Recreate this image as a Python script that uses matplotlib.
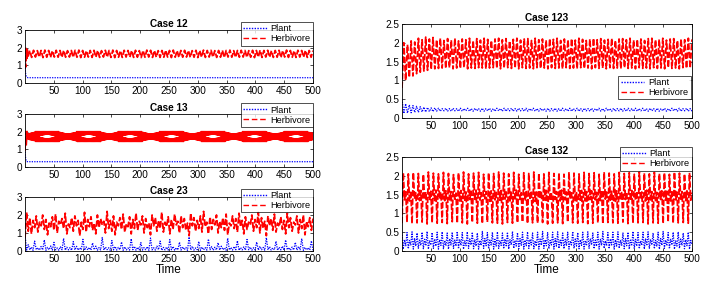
import numpy as np
import matplotlib
matplotlib.use("Agg")
import matplotlib.pyplot as plt

plt.rcParams['font.family'] = ['Liberation Sans', 'DejaVu Sans']
plt.rcParams['lines.scale_dashes'] = False
plt.rcParams['path.simplify'] = False

# ---------------- data ----------------
x_ticks = [50, 100, 150, 200, 250, 300, 350, 400, 450, 500]
labels = ["Plant", "Herbivore"]

# Case 12
h12_trans_t = [0, 1, 2, 3, 4]
h12_trans = [2.00, 0.90, 1.95, 1.30, 1.88]
h12_peaks = [1.84,1.85,1.83,1.84,1.86,1.84,1.83,1.85,1.84,1.85,
             1.83,1.84,1.85,1.86,1.84,1.83,1.84,1.85,1.84,1.83,
             1.85,1.84,1.86,1.84,1.83,1.85,1.84,1.84,1.85,1.83,
             1.84,1.86,1.85,1.84,1.83,1.84,1.85,1.84,1.86,1.83,
             1.84,1.85,1.84,1.83,1.85,1.84,1.86,1.84,1.85,1.83,
             1.84,1.85,1.84,1.86,1.83,1.84,1.85,1.84,1.83,1.85,
             1.84,1.86,1.84,1.85,1.83,1.84,1.85,1.84,1.86,1.84,
             1.83,1.85,1.84,1.85,1.84,1.83]
h12_troughs = [1.46,1.45,1.47,1.46,1.44,1.46,1.45,1.47,1.46,1.45,
               1.46,1.47,1.45,1.46,1.44,1.46,1.47,1.45,1.46,1.45,
               1.47,1.46,1.45,1.44,1.46,1.45,1.47,1.46,1.45,1.46,
               1.44,1.46,1.47,1.45,1.46,1.45,1.46,1.47,1.44,1.46,
               1.45,1.46,1.47,1.45,1.46,1.44,1.46,1.45,1.47,1.46,
               1.45,1.46,1.44,1.47,1.46,1.45,1.46,1.47,1.45,1.46,
               1.44,1.46,1.45,1.47,1.46,1.45,1.46,1.44,1.47,1.45,
               1.46,1.45,1.47,1.46,1.45,1.46]
p12_t = [0, 1, 2, 3, 5, 500]
p12 = [1.00, 0.55, 0.40, 0.33, 0.30, 0.30]

# Case 13 (constant-amplitude fast oscillation, t = 5 ... 500)
h13_trans_t = [0, 1, 2, 3.5, 5]
h13_trans = [0.90, 2.00, 1.20, 2.05, 1.45]
h13 = [
1.45,2.00,1.45,2.00,1.45,2.00,1.45,2.00,1.45,2.00,1.45,2.00,1.45,2.00,1.45,2.00,
1.45,2.00,1.45,2.00,1.45,2.00,1.45,2.00,1.45,2.00,1.45,2.00,1.45,2.00,1.45,2.00,
1.45,2.00,1.45,2.00,1.45,2.00,1.45,2.00,1.45,2.00,1.45,2.00,1.45,2.00,1.45,2.00,
1.45,2.00,1.45,2.00,1.45,2.00,1.45,2.00,1.45,2.00,1.45,2.00,1.45,2.00,1.45,2.00,
1.45,2.00,1.45,2.00,1.45,2.00,1.45,2.00,1.45,2.00,1.45,2.00,1.45,2.00,1.45,2.00,
1.45,2.00,1.45,2.00,1.45,2.00,1.45,2.00,1.45,2.00,1.45,2.00,1.45,2.00,1.45,2.00,
1.45,2.00,1.45,2.00,1.45,2.00,1.45,2.00,1.45,2.00,1.45,2.00,1.45,2.00,1.45,2.00,
1.45,2.00,1.45,2.00,1.45,2.00,1.45,2.00,1.45,2.00,1.45,2.00,1.45,2.00,1.45,2.00,
1.45,2.00,1.45,2.00,1.45,2.00,1.45,2.00,1.45,2.00,1.45,2.00,1.45,2.00,1.45,2.00,
1.45,2.00,1.45,2.00,1.45,2.00,1.45,2.00,1.45,2.00,1.45,2.00,1.45,2.00,1.45,2.00,
1.45,2.00,1.45,2.00,1.45,2.00,1.45,2.00,1.45,2.00,1.45,2.00,1.45,2.00,1.45,2.00,
1.45,2.00,1.45,2.00,1.45,2.00,1.45,2.00,1.45,2.00,1.45,2.00,1.45,2.00,1.45,2.00,
1.45,2.00,1.45,2.00,1.45,2.00,1.45,2.00,1.45,2.00,1.45,2.00,1.45,2.00,1.45,2.00,
1.45,2.00,1.45,2.00,1.45,2.00,1.45,2.00,1.45,2.00,1.45,2.00,1.45,2.00,1.45,2.00,
1.45,2.00,1.45,2.00,1.45,2.00,1.45,2.00,1.45,2.00,1.45,2.00,1.45,2.00,1.45,2.00,
1.45,2.00,1.45,2.00,1.45,2.00,1.45,2.00,1.45,2.00,1.45,2.00,1.45,2.00,1.45,2.00,
1.45,2.00,1.45,2.00,1.45,2.00,1.45,2.00,1.45,2.00,1.45,2.00,1.45,2.00,1.45,2.00,
1.45,2.00,1.45,2.00,1.45,2.00,1.45,2.00,1.45,2.00,1.45,2.00,1.45,2.00,1.45,2.00,
1.45,2.00,1.45,2.00,1.45,2.00,1.45,2.00,1.45,2.00,1.45,2.00,1.45,2.00,1.45,2.00,
1.45,2.00,1.45,2.00,1.45,2.00,1.45,2.00,1.45,2.00,1.45,2.00,1.45,2.00,1.45,2.00,
1.45,2.00,1.45,2.00,1.45,2.00,1.45,2.00,1.45,2.00,1.45,2.00,1.45,2.00,1.45,2.00,
1.45,2.00,1.45,2.00,1.45,2.00,1.45,2.00,1.45,2.00,1.45,2.00,1.45,2.00,1.45,2.00,
1.45,2.00,1.45,2.00,1.45,2.00,1.45,2.00,1.45,2.00,1.45,2.00,1.45,2.00,1.45,2.00,
1.45,2.00,1.45,2.00,1.45,2.00,1.45,2.00,1.45,2.00,1.45,2.00,1.45,2.00,1.45,2.00,
1.45,2.00,1.45,2.00,1.45,2.00,1.45,2.00,1.45,2.00,1.45,2.00,1.45,2.00,1.45,2.00,
1.45,2.00,1.45,2.00,1.45,2.00,1.45,2.00,1.45,2.00,1.45,2.00,1.45,2.00,1.45,2.00,
1.45,2.00,1.45,2.00,1.45,2.00,1.45,2.00,1.45,2.00,1.45,2.00,1.45,2.00,1.45,2.00,
1.45,2.00,1.45,2.00,1.45,2.00,1.45,2.00,1.45,2.00,1.45,2.00,1.45,2.00,1.45,2.00,
1.45,2.00,1.45,2.00,1.45,2.00,1.45,2.00,1.45,2.00,1.45,2.00,1.45,2.00,1.45,2.00,
1.45,2.00,1.45,2.00,1.45,2.00,1.45,2.00,1.45,2.00,1.45,2.00,1.45,2.00,1.45,2.00,
1.45,2.00,1.45,2.00,1.45,2.00,1.45,2.00,1.45,2.00,1.45,2.00,1.45,2.00,1.45,2.00]
p13_t = [0, 1, 2, 3, 5, 500]
p13 = [1.00, 0.50, 0.35, 0.31, 0.30, 0.30]

# Case 23
h23 = [0.75,2.15,1.10,1.85,0.95,1.70,1.30,1.95,1.05,1.60,
       1.40,2.00,1.20,1.75,0.90,1.55,1.35,1.90,1.15,2.05,
       1.00,1.65,1.45,1.80,1.25,2.10,0.95,1.50,1.30,1.85,
       1.10,1.95,1.40,1.70,0.85,1.60,1.20,2.15,1.05,1.75,
       1.35,1.90,1.15,1.55,0.95,2.00,1.30,1.80,1.45,1.65,
       1.00,2.20,1.25,1.70,1.10,1.95,0.90,1.60,1.40,1.85,
       1.20,2.05,1.05,1.50,1.35,1.90,0.95,1.75,1.25,2.10,
       1.15,1.65,1.45,1.95,1.00,1.80,1.30,1.55,0.90,2.00,
       1.40,1.85,1.10,1.70,1.25,2.15,1.05,1.60,1.35,1.90,
       0.95,1.75,1.20,2.05,1.45,1.65,1.00,1.95,1.30,1.80,
       1.15,1.55,0.85,2.10,1.40,1.85,1.10,1.70,1.25,1.95,
       1.05,2.20,1.35,1.60,0.95,1.90,1.20,1.75,1.45,2.00,
       1.00,1.65,1.30,1.85,1.15,2.05,0.90,1.55,1.40,1.95,
       1.25,1.80,1.05,2.10,1.35,1.70,0.95,1.90,1.20,1.60,
       1.45,2.00,1.10,1.75,1.30,2.15,1.00,1.85,1.25,1.65,
       0.85,1.95,1.40,1.80,1.15,2.05,1.05,1.55,1.35,1.90,
       1.20,1.70,0.95,2.10,1.30,1.85,1.10,1.60,1.45,1.95,
       1.00,1.75,1.25,2.00,0.90,1.65,1.35,1.85,1.15,1.80]
p23 = [0.90,0.05,0.35,0.06,0.22,0.04,0.55,0.07,0.18,0.05,
       0.25,0.06,0.62,0.04,0.20,0.07,0.28,0.05,0.48,0.06,
       0.17,0.04,0.24,0.07,0.70,0.05,0.21,0.06,0.19,0.04,
       0.52,0.06,0.26,0.05,0.18,0.07,0.65,0.04,0.23,0.06,
       0.20,0.05,0.45,0.07,0.27,0.04,0.19,0.06,0.75,0.05,
       0.22,0.07,0.18,0.04,0.58,0.06,0.25,0.05,0.20,0.07,
       0.50,0.04,0.23,0.06,0.17,0.05,0.68,0.07,0.26,0.04,
       0.21,0.06,0.47,0.05,0.19,0.07,0.24,0.04,0.72,0.06,
       0.18,0.05,0.27,0.07,0.55,0.04,0.20,0.06,0.22,0.05,
       0.63,0.07,0.25,0.04,0.18,0.06,0.49,0.05,0.23,0.07,
       0.20,0.04,0.78,0.06,0.26,0.05,0.17,0.07,0.53,0.04,
       0.22,0.06,0.19,0.05,0.66,0.07,0.24,0.04,0.21,0.06,
       0.46,0.05,0.27,0.07,0.18,0.04,0.71,0.06,0.20,0.05,
       0.25,0.07,0.57,0.04,0.19,0.06,0.23,0.05,0.64,0.07,
       0.22,0.04,0.18,0.06,0.50,0.05,0.26,0.07,0.20,0.04,
       0.74,0.06,0.24,0.05,0.17,0.07,0.54,0.04,0.21,0.06,
       0.27,0.05,0.61,0.07,0.19,0.04,0.22,0.06,0.48,0.05,
       0.25,0.07,0.69,0.04,0.20,0.06,0.18,0.05,0.56,0.04]

# Case 123
h123 = [0.80,2.00,1.00,1.95,1.08,2.05,1.12,2.02,1.18,2.12,
        1.22,2.08,1.25,2.15,1.27,2.10,1.29,2.14,1.31,2.08,
        1.32,2.12,1.33,2.06,1.32,2.11,1.34,2.07,1.31,2.12,
        1.33,2.05,1.32,2.10,1.34,2.08,1.31,2.12,1.33,2.06,
        1.32,2.11,1.34,2.07,1.33,2.12,1.31,2.09,1.33,2.06,
        1.34,2.10,1.32,2.12,1.31,2.08,1.33,2.11,1.34,2.05,
        1.32,2.09,1.33,2.12,1.31,2.07,1.34,2.10,1.32,2.11,
        1.33,2.06,1.31,2.12,1.34,2.08,1.32,2.10,1.33,2.07,
        1.31,2.11,1.34,2.09,1.32,2.12,1.33,2.06,1.31,2.10,
        1.34,2.08,1.32,2.11,1.33,2.07,1.31,2.12,1.34,2.09,
        1.32,2.06,1.33,2.10,1.31,2.12,1.34,2.08,1.32,2.11,
        1.33,2.07,1.31,2.09,1.34,2.12,1.32,2.06,1.33,2.10,
        1.31,2.11,1.34,2.08,1.32,2.12,1.33,2.07,1.31,2.09,
        1.34,2.10,1.32,2.06,1.33,2.11,1.31,2.12,1.34,2.08,
        1.32,2.09,1.33,2.12,1.31,2.07,1.34,2.10,1.32,2.11,
        1.33,2.06,1.31,2.10,1.34,2.08,1.32,2.12,1.33,2.09]
p123 = [0.50,0.12,0.38,0.13,0.35,0.14,0.33,0.15,0.31,0.15,
        0.30,0.16,0.29,0.16,0.28,0.17,0.27,0.17,0.27,0.18,
        0.26,0.18,0.25,0.19,0.26,0.18,0.25,0.18,0.26,0.19,
        0.25,0.18,0.26,0.18,0.25,0.19,0.26,0.18,0.25,0.18,
        0.26,0.19,0.25,0.18,0.26,0.18,0.25,0.19,0.26,0.18,
        0.25,0.18,0.26,0.19,0.25,0.18,0.26,0.18,0.25,0.19,
        0.26,0.18,0.25,0.18,0.26,0.19,0.25,0.18,0.26,0.18,
        0.25,0.19,0.26,0.18,0.25,0.18,0.26,0.19,0.25,0.18,
        0.26,0.18,0.25,0.19,0.26,0.18,0.25,0.18,0.26,0.19,
        0.25,0.18,0.26,0.18,0.25,0.19,0.26,0.18,0.25,0.18,
        0.26,0.19,0.25,0.18,0.26,0.18,0.25,0.19,0.26,0.18,
        0.25,0.18,0.26,0.19,0.25,0.18,0.26,0.18,0.25,0.19,
        0.26,0.18,0.25,0.18,0.26,0.19,0.25,0.18,0.26,0.18,
        0.25,0.19,0.26,0.18,0.25,0.18,0.26,0.19,0.25,0.18,
        0.26,0.18,0.25,0.19,0.26,0.18,0.25,0.18,0.26,0.19,
        0.25,0.18,0.26,0.18,0.25,0.19,0.26,0.18,0.25,0.18]

# Case 132
h132 = [0.74,2.08,1.36,1.58,0.76,2.05,1.33,1.60,
        0.73,2.09,1.38,1.55,0.75,2.06,1.34,1.61,
        0.77,2.04,1.37,1.57,0.72,2.10,1.35,1.59,
        0.75,2.07,1.32,1.62,0.74,2.05,1.39,1.56,
        0.76,2.09,1.34,1.60,0.73,2.06,1.36,1.58,
        0.78,2.03,1.38,1.54,0.74,2.08,1.33,1.61,
        0.75,2.10,1.35,1.57,0.72,2.05,1.37,1.59,
        0.76,2.07,1.34,1.62,0.74,2.09,1.36,1.55,
        0.73,2.04,1.39,1.58,0.77,2.08,1.32,1.60,
        0.75,2.06,1.36,1.56,0.74,2.10,1.35,1.61,
        0.72,2.07,1.38,1.57,0.76,2.05,1.33,1.59,
        0.74,2.09,1.35,1.62,0.75,2.04,1.37,1.55,
        0.77,2.08,1.34,1.58,0.73,2.06,1.36,1.60,
        0.75,2.10,1.32,1.57,0.74,2.07,1.39,1.59,
        0.76,2.05,1.35,1.61,0.72,2.09,1.34,1.56,
        0.74,2.06,1.37,1.58,0.75,2.08,1.33,1.62,
        0.73,2.04,1.36,1.57,0.77,2.10,1.38,1.59,
        0.75,2.07,1.34,1.55,0.74,2.05,1.35,1.61,
        0.76,2.09,1.33,1.58,0.73,2.06,1.37,1.60,
        0.74,2.08,1.36,1.56,0.75,2.04,1.34,1.62,
        0.72,2.10,1.38,1.57,0.76,2.07,1.35,1.59,
        0.75,2.05,1.32,1.60,0.74,2.09,1.36,1.58,
        0.77,2.06,1.37,1.55,0.73,2.08,1.34,1.61,
        0.74,2.04,1.35,1.59,0.75,2.10,1.39,1.57,
        0.76,2.07,1.33,1.62,0.72,2.05,1.36,1.58,
        0.75,2.09,1.34,1.56,0.74,2.06,1.37,1.60,
        0.73,2.08,1.35,1.59,0.77,2.04,1.33,1.61,
        0.74,2.10,1.36,1.57,0.75,2.07,1.38,1.58,
        0.76,2.05,1.34,1.60,0.74,2.08,1.35,1.55]
p132 = [0.50,0.05,0.30,0.14,0.49,0.06,0.28,0.16,
        0.51,0.05,0.33,0.13,0.48,0.07,0.29,0.15,
        0.50,0.06,0.31,0.14,0.52,0.05,0.27,0.16,
        0.49,0.07,0.32,0.13,0.50,0.05,0.30,0.15,
        0.51,0.06,0.28,0.14,0.48,0.05,0.33,0.16,
        0.50,0.07,0.29,0.13,0.52,0.06,0.31,0.15,
        0.49,0.05,0.27,0.14,0.51,0.07,0.32,0.16,
        0.50,0.06,0.30,0.13,0.48,0.05,0.28,0.15,
        0.52,0.07,0.33,0.14,0.49,0.06,0.29,0.16,
        0.50,0.05,0.31,0.13,0.51,0.07,0.27,0.15,
        0.48,0.06,0.32,0.14,0.50,0.05,0.30,0.16,
        0.52,0.07,0.28,0.13,0.49,0.06,0.33,0.15,
        0.50,0.05,0.29,0.14,0.51,0.07,0.31,0.16,
        0.48,0.06,0.27,0.13,0.50,0.05,0.32,0.15,
        0.52,0.07,0.30,0.14,0.49,0.06,0.28,0.16,
        0.50,0.05,0.33,0.13,0.51,0.07,0.29,0.15,
        0.48,0.06,0.31,0.14,0.50,0.05,0.27,0.16,
        0.52,0.07,0.32,0.13,0.49,0.06,0.30,0.15,
        0.50,0.05,0.28,0.14,0.51,0.07,0.33,0.16,
        0.48,0.06,0.29,0.13,0.50,0.05,0.31,0.15,
        0.52,0.07,0.27,0.14,0.49,0.06,0.32,0.16,
        0.50,0.05,0.30,0.13,0.51,0.07,0.28,0.15,
        0.48,0.06,0.33,0.14,0.50,0.05,0.29,0.16,
        0.52,0.07,0.31,0.13,0.49,0.06,0.27,0.15,
        0.50,0.05,0.32,0.14,0.51,0.07,0.30,0.16,
        0.48,0.06,0.28,0.13,0.50,0.05,0.33,0.15,
        0.52,0.07,0.29,0.14,0.49,0.06,0.31,0.16,
        0.50,0.05,0.27,0.13,0.51,0.07,0.32,0.15,
        0.48,0.06,0.30,0.14,0.50,0.05,0.28,0.16]

# ---------------- assemble ----------------
h12_band = np.empty(2 * len(h12_peaks))
h12_band[0::2] = h12_troughs
h12_band[1::2] = h12_peaks
h12_t = np.concatenate([h12_trans_t, np.linspace(5, 500, len(h12_band))])
h12_v = np.concatenate([h12_trans, h12_band])

t13 = np.linspace(5, 500, len(h13))

t23 = np.linspace(0, 500, len(h23))
tp23 = np.linspace(0, 500, len(p23))
t123 = np.linspace(0, 500, len(h123))
tp123 = np.linspace(0, 500, len(p123))
t132 = np.linspace(0, 500, len(h132))
tp132 = np.linspace(0, 500, len(p132))

# ---------------- figure ----------------
W, H = 711, 284
fig = plt.figure(figsize=(W / 100, H / 100), dpi=100)

def px_axes(x0, top, w, h):
    return fig.add_axes([x0 / W, 1 - (top + h) / H, w / W, h / H])

RED = (1, 0, 0)
BLUE = (0, 0, 1)
red_kw = dict(color=RED, lw=1.3, linestyle=(0, (4.5, 1.6)))
blue_kw = dict(color=BLUE, lw=0.9, linestyle=(0, (0.9, 0.9)))

# dash pattern for the dense Case-13 band (MATLAB-like dash aliasing)
ax13_h_px, ax13_w_px = 53.0, 288.0
seg_px = np.hypot((h13[1] - h13[0]) * ax13_h_px / 3.0,
                  (t13[1] - t13[0]) * ax13_w_px / 500.0)
seg_pt = seg_px * 72.0 / 100.0
dash_period = seg_pt * 72.0 / 73.0
gap13 = 2.8
on13 = dash_period - gap13
drift = seg_pt - dash_period
phase_needed = on13 - (seg_pt - gap13) / 2.0
offset13 = (phase_needed - 33 * drift) % dash_period
red13_kw = dict(color=RED, lw=1.3, linestyle=(offset13, (on13, gap13)))

def style(ax, title, ylim, yticks, leg_anchor, xlabel=False):
    ax.set_xlim(0, 500)
    ax.set_ylim(*ylim)
    ax.set_xticks(x_ticks)
    ax.set_yticks(yticks)
    ax.set_yticklabels([("%g" % v) for v in yticks])
    ax.tick_params(direction='in', top=True, right=True, length=2.5,
                   width=0.5, labelsize=7.2, pad=2)
    for s in ax.spines.values():
        s.set_linewidth(0.6)
    ax.set_title(title, fontsize=7.2, fontweight='bold', pad=2)
    if xlabel:
        ax.set_xlabel("Time", fontsize=8.5, labelpad=0)
    from matplotlib.lines import Line2D
    handles = [Line2D([], [], color=BLUE, lw=1.0, linestyle=(0, (1, 1))),
               Line2D([], [], color=RED, lw=1.0, linestyle=(0, (4, 2)))]
    leg = ax.legend(handles, labels, loc='upper right', bbox_to_anchor=leg_anchor,
                    fontsize=6.6, frameon=True, fancybox=False,
                    borderaxespad=0, handlelength=2.6, handletextpad=0.4,
                    borderpad=0.25, labelspacing=0.1)
    leg.get_frame().set_edgecolor('black')
    leg.get_frame().set_linewidth(0.6)

ax12 = px_axes(25, 30, 288, 53)
ax12.plot(p12_t, p12, **blue_kw)
ax12.plot(h12_t, h12_v, **red_kw)
style(ax12, "Case 12", (0, 3), [0, 1, 2, 3], (1.0, 1.15))

ax13 = px_axes(25, 114, 288, 53)
ax13.plot(p13_t, p13, **blue_kw)
ax13.plot(h13_trans_t, h13_trans, **red_kw)
ax13.plot(t13, h13, **red13_kw)
style(ax13, "Case 13", (0, 3), [0, 1, 2, 3], (1.0, 1.2))

ax23 = px_axes(25, 197, 288, 54)
ax23.plot(tp23, p23, **blue_kw)
ax23.plot(t23, h23, **red_kw)
style(ax23, "Case 23", (0, 3), [0, 1, 2, 3], (1.0, 1.15), xlabel=True)

ax123 = px_axes(402, 24, 290, 94)
ax123.plot(tp123, p123, **blue_kw)
ax123.plot(t123, h123, **red_kw)
style(ax123, "Case 123", (0, 2.5), [0, 0.5, 1, 1.5, 2, 2.5], (0.995, 0.447))

ax132 = px_axes(402, 157, 290, 94)
ax132.plot(tp132, p132, **blue_kw)
ax132.plot(t132, h132, **red_kw)
style(ax132, "Case 132", (0, 2.5), [0, 0.5, 1, 1.5, 2, 2.5], (1.0, 1.106), xlabel=True)

fig.savefig("out.png", dpi=100)
